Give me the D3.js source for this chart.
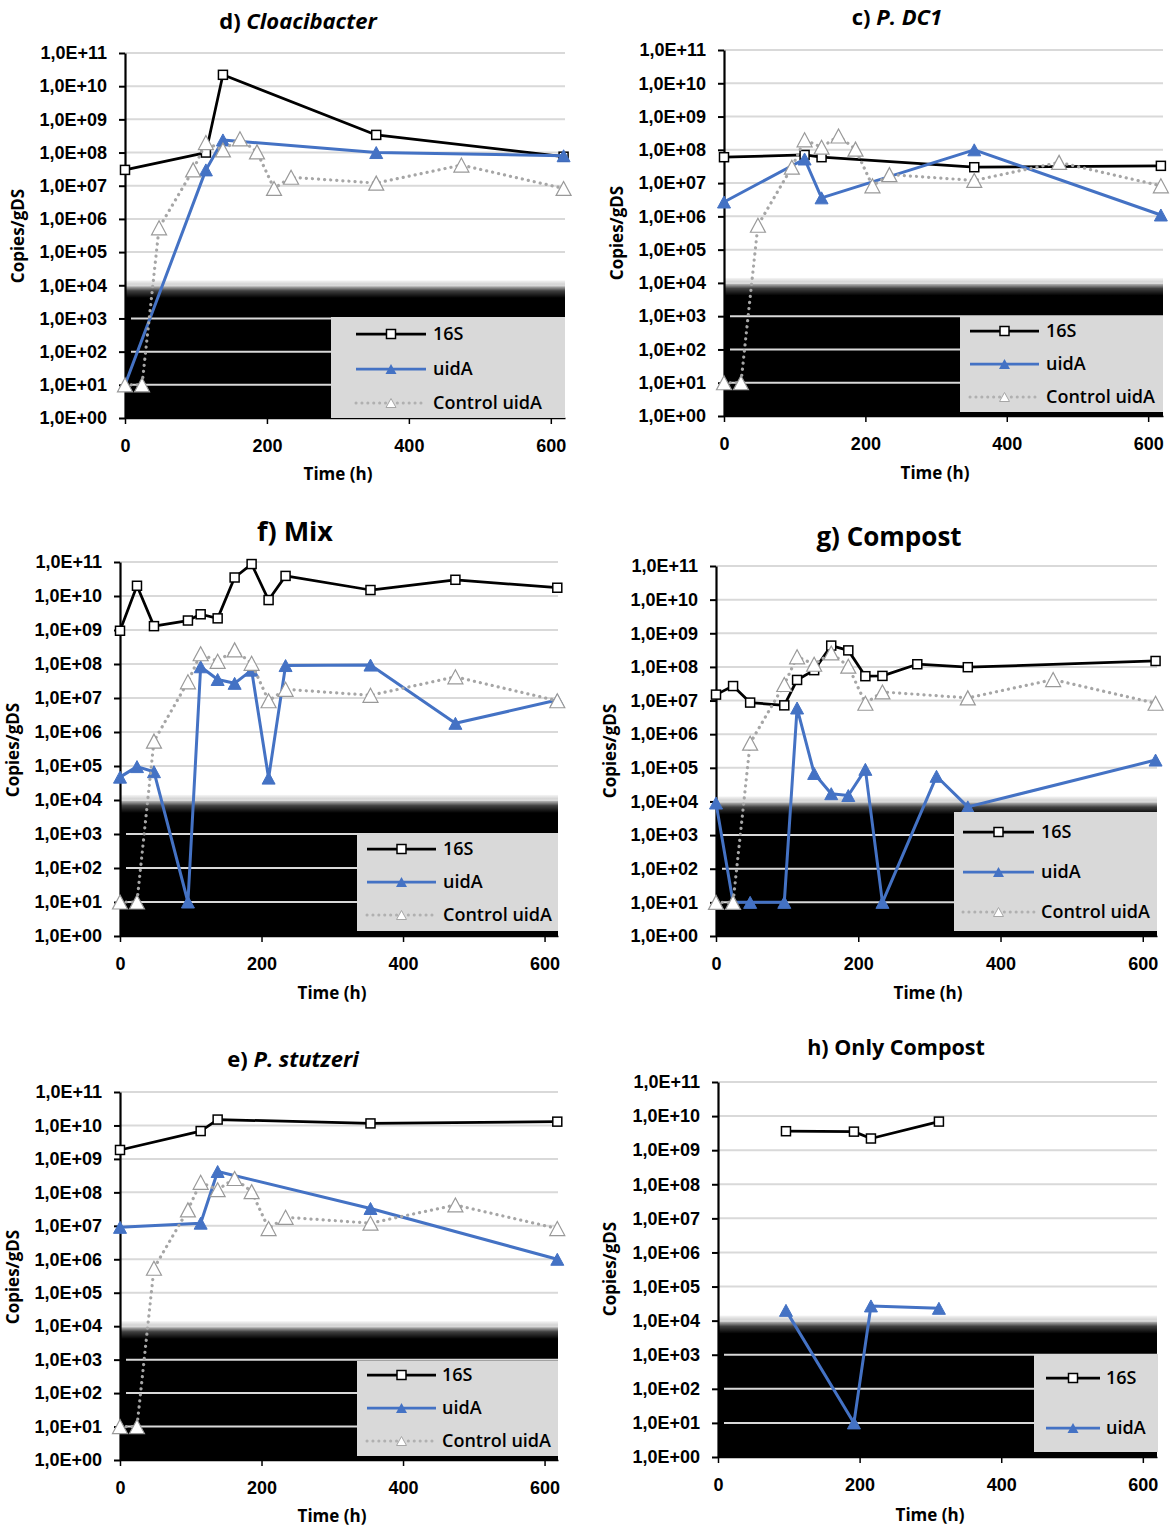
<!DOCTYPE html>
<html>
<head>
<meta charset="utf-8">
<script src="https://cdn.jsdelivr.net/npm/d3@7"></script>
<style>
  body { margin: 0; background: #fff; }
  svg { font-family: "Open Sans", "Liberation Sans", sans-serif; }
</style>
</head>
<body>
<div id="chart"></div>
<script>
// time points (h) and copies/gDS
const timeCtrl = [0, 24, 48, 96, 114, 138, 162, 186, 210, 234, 354, 474, 618];
const ctrlUidA = [10, 10, 5.4e5, 3e7, 2e8, 1.2e8, 2.6e8, 1.05e8, 8.3e6, 1.8e7, 1.2e7, 4.2e7, 8.3e6];

const timeD = [0, 114, 138, 354, 618];
const d16S = [3e7, 1e8, 2.2e10, 3.4e8, 7.5e7];
const dUidA = [10, 3e7, 2.4e8, 1e8, 8e7];

const timeC = [0, 114, 138, 354, 618];
const c16S = [6e7, 7e7, 6e7, 3e7, 3.3e7];
const cUidA = [2.7e6, 5.3e7, 3.6e6, 1e8, 1.1e6];

const timeF = [0, 24, 48, 96, 114, 138, 162, 186, 210, 234, 354, 474, 618];
const f16S = [9.5e8, 2e10, 1.3e9, 1.9e9, 2.9e9, 2.2e9, 3.5e10, 8.7e10, 7.6e9, 3.9e10, 1.5e10, 3e10, 1.75e10];
const fUidA = [4.7e4, 9.6e4, 6.8e4, 10, 8.3e7, 3.5e7, 2.7e7, 6.6e7, 4.4e4, 9e7, 9.3e7, 1.8e6, 8.7e6];

const timeG16S = [0, 24, 48, 96, 114, 138, 162, 186, 210, 234, 283, 354, 618];
const g16S = [1.5e7, 2.7e7, 8.7e6, 7.2e6, 4.1e7, 8e7, 4.3e8, 3.1e8, 5.3e7, 5.4e7, 1.2e8, 9.8e7, 1.5e8];
const timeGUidA = [0, 24, 48, 96, 114, 138, 162, 186, 210, 234, 310, 354, 618];
const gUidA = [9e3, 10, 10, 10, 6e6, 6.8e4, 1.7e4, 1.5e4, 9e4, 10, 5.6e4, 6.9e3, 1.7e5];

const timeE = [0, 114, 138, 354, 618];
const e16S = [1.85e9, 6.8e9, 1.5e10, 1.15e10, 1.3e10];
const eUidA = [9e6, 1.2e7, 4.2e8, 3.3e7, 1e6];

const timeH = [96, 192, 216, 312];
const h16S = [3.6e9, 3.5e9, 2.2e9, 6.9e9];
const hUidA = [2e4, 10, 2.7e4, 2.3e4];

const yTicks = [1, 1e1, 1e2, 1e3, 1e4, 1e5, 1e6, 1e7, 1e8, 1e9, 1e10, 1e11];
const xTicks = [0, 200, 400, 600];
const seriesNames = ["16S", "uidA", "Control uidA"];

const W = 1173, H = 1528;
const BLUE = "#4472c4", GRID = "#d9d9d9", CTRL = "#a6a6a6";

const svg = d3.select("#chart").append("svg")
    .attr("width", W)
    .attr("height", H);
const defs = svg.append("defs");

const panels = [
  { id: "d", x0: 125, x1: 565, yTop: 53, yBot: 418, xMax: 620,
    title: [["d) ", false], ["Cloacibacter", true]], tx: 298, ty: 21, tsize: 22,
    timeX: 338, timeY: 474, copX: 18, copY: 236,
    legend: { x0: 331, y0: 317, x1: 565, y1: 418, rows: [334, 369, 403], l0: 356, l1: 426, tx: 433 },
    s16: [timeD, d16S], uid: [timeD, dUidA], ctrl: [timeCtrl, ctrlUidA] },
  { id: "c", x0: 724, x1: 1163, yTop: 50, yBot: 416, xMax: 621,
    title: [["c) ", false], ["P. DC1", true]], tx: 897, ty: 17, tsize: 22,
    timeX: 935, timeY: 473, copX: 617, copY: 233,
    legend: { x0: 960, y0: 316, x1: 1163, y1: 412, rows: [331, 364, 397], l0: 970, l1: 1039, tx: 1046 },
    s16: [timeC, c16S], uid: [timeC, cUidA], ctrl: [timeCtrl, ctrlUidA] },
  { id: "f", x0: 120, x1: 558, yTop: 562, yBot: 936, xMax: 619,
    title: [["f) Mix", false]], tx: 295, ty: 532, tsize: 27,
    timeX: 332, timeY: 993, copX: 13, copY: 750,
    legend: { x0: 357, y0: 833, x1: 558, y1: 931, rows: [849, 882, 915], l0: 367, l1: 436, tx: 443 },
    s16: [timeF, f16S], uid: [timeF, fUidA], ctrl: [timeCtrl, ctrlUidA] },
  { id: "g", x0: 716, x1: 1157, yTop: 566, yBot: 936, xMax: 620,
    title: [["g) Compost", false]], tx: 889, ty: 537, tsize: 26,
    timeX: 928, timeY: 993, copX: 610, copY: 751,
    legend: { x0: 954, y0: 812, x1: 1157, y1: 931, rows: [832, 872, 912], l0: 963, l1: 1034, tx: 1041 },
    s16: [timeG16S, g16S], uid: [timeGUidA, gUidA], ctrl: [timeCtrl, ctrlUidA] },
  { id: "e", x0: 120, x1: 558, yTop: 1092, yBot: 1460, xMax: 619,
    title: [["e) ", false], ["P. stutzeri", true]], tx: 293, ty: 1059, tsize: 22,
    timeX: 332, timeY: 1516, copX: 13, copY: 1277,
    legend: { x0: 357, y0: 1361, x1: 558, y1: 1456, rows: [1375, 1408, 1441], l0: 367, l1: 436, tx: 442 },
    s16: [timeE, e16S], uid: [timeE, eUidA], ctrl: [timeCtrl, ctrlUidA] },
  { id: "h", x0: 718, x1: 1157, yTop: 1082, yBot: 1457, xMax: 620,
    title: [["h) Only Compost", false]], tx: 896, ty: 1047, tsize: 21.5,
    timeX: 930, timeY: 1515, copX: 610, copY: 1269,
    legend: { x0: 1034, y0: 1354, x1: 1158, y1: 1452, rows: [1378, 1428], l0: 1046, l1: 1100, tx: 1106 },
    s16: [timeH, h16S], uid: [timeH, hUidA], ctrl: null }
];

const tickFmt = d => "1,0E+" + String(Math.round(Math.log10(d))).padStart(2, "0");

function tri(w, h) {
  return `M0,${-h / 2}L${w / 2},${h / 2}L${-w / 2},${h / 2}Z`;
}

function drawPanel(p) {
  const x = d3.scaleLinear().domain([0, p.xMax]).range([p.x0, p.x1]);
  const y = d3.scaleLog().domain([1, 1e11]).range([p.yBot, p.yTop]);
  const g = svg.append("g");

  // dark "below detection" band with a soft top edge
  const grad = defs.append("linearGradient")
      .attr("id", "fade" + p.id)
      .attr("gradientUnits", "userSpaceOnUse")
      .attr("x1", 0).attr("x2", 0)
      .attr("y1", y(10 ** 4.15)).attr("y2", y(10 ** 3.62));
  grad.append("stop").attr("offset", 0).attr("stop-color", "#000").attr("stop-opacity", 0.04);
  grad.append("stop").attr("offset", 0.3).attr("stop-color", "#000").attr("stop-opacity", 0.22);
  grad.append("stop").attr("offset", 0.6).attr("stop-color", "#000").attr("stop-opacity", 0.75);
  grad.append("stop").attr("offset", 1).attr("stop-color", "#000").attr("stop-opacity", 1);

  g.append("rect")
      .attr("x", p.x0)
      .attr("y", y(10 ** 4.15))
      .attr("width", p.x1 - p.x0)
      .attr("height", p.yBot - y(10 ** 4.15))
      .attr("fill", `url(#fade${p.id})`);

  // gridlines
  g.append("g").selectAll("line")
    .data(yTicks.slice(1))
    .join("line")
      .attr("x1", d => d < 1e4 ? p.x0 + 6 : p.x0)
      .attr("x2", p.x1)
      .attr("y1", d => y(d))
      .attr("y2", d => y(d))
      .attr("stroke", GRID)
      .attr("stroke-width", 2);

  // axes
  const yAxis = d3.axisLeft(y).tickValues(yTicks).tickFormat(tickFmt)
      .tickSize(6).tickSizeOuter(0).tickPadding(12);
  const ya = g.append("g").attr("transform", `translate(${p.x0},0)`).call(yAxis);
  ya.select(".domain").attr("stroke", "#000").attr("stroke-width", 2.2);
  ya.selectAll(".tick line").attr("stroke", "#000").attr("stroke-width", 2);
  ya.selectAll("text").attr("font-size", 18).attr("font-weight", 700).attr("fill", "#000");

  const xAxis = d3.axisBottom(x).tickValues(xTicks).tickSize(6).tickSizeOuter(0).tickPadding(15);
  const xa = g.append("g").attr("transform", `translate(0,${p.yBot})`).call(xAxis);
  xa.select(".domain").attr("stroke", "#000").attr("stroke-width", 1.5);
  xa.selectAll(".tick line").attr("stroke", "#000").attr("stroke-width", 1.5);
  xa.selectAll("text").attr("font-size", 18).attr("font-weight", 700).attr("fill", "#000");

  // series
  const line = d3.line().x(d => x(d[0])).y(d => y(d[1]));
  const pts = s => s[0].map((t, i) => [t, s[1][i]]);

  const d16 = pts(p.s16);
  g.append("path").datum(d16).attr("d", line)
      .attr("fill", "none").attr("stroke", "#000").attr("stroke-width", 2.75)
      .attr("stroke-linejoin", "round");
  g.append("g").selectAll("rect").data(d16).join("rect")
      .attr("x", d => x(d[0]) - 4.5).attr("y", d => y(d[1]) - 4.5)
      .attr("width", 9).attr("height", 9)
      .attr("fill", "#fff").attr("stroke", "#000").attr("stroke-width", 1.5);

  const dU = pts(p.uid);
  g.append("path").datum(dU).attr("d", line)
      .attr("fill", "none").attr("stroke", BLUE).attr("stroke-width", 3)
      .attr("stroke-linejoin", "round");
  g.append("g").selectAll("path").data(dU).join("path")
      .attr("d", tri(13, 12))
      .attr("transform", d => `translate(${x(d[0])},${y(d[1])})`)
      .attr("fill", BLUE).attr("stroke", BLUE).attr("stroke-width", 1);

  if (p.ctrl) {
    const dC = pts(p.ctrl);
    g.append("path").datum(dC).attr("d", line)
        .attr("fill", "none").attr("stroke", CTRL).attr("stroke-width", 3.2)
        .attr("stroke-dasharray", "0.1 6").attr("stroke-linecap", "round");
    g.append("g").selectAll("path").data(dC).join("path")
        .attr("d", tri(15, 14))
        .attr("transform", d => `translate(${x(d[0])},${y(d[1])})`)
        .attr("fill", "#fff").attr("stroke", "#999").attr("stroke-width", 1.2);
  }

  // legend
  const L = p.legend;
  g.append("rect")
      .attr("x", L.x0).attr("y", L.y0)
      .attr("width", L.x1 - L.x0).attr("height", L.y1 - L.y0)
      .attr("fill", "#d9d9d9");
  const nItems = p.ctrl ? 3 : 2;
  const lg = g.append("g").selectAll("g")
    .data(seriesNames.slice(0, nItems))
    .join("g")
      .attr("transform", (d, i) => `translate(0,${L.rows[i]})`);
  lg.append("line")
      .attr("x1", L.l0).attr("x2", L.l1)
      .attr("stroke", (d, i) => [ "#000", BLUE, "#b0b0b0" ][i])
      .attr("stroke-width", (d, i) => i === 2 ? 3 : 2.75)
      .attr("stroke-dasharray", (d, i) => i === 2 ? "0.1 5.8" : null)
      .attr("stroke-linecap", (d, i) => i === 2 ? "round" : "butt");
  const mid = (L.l0 + L.l1) / 2;
  lg.filter((d, i) => i === 0).append("rect")
      .attr("x", mid - 4.5).attr("y", -4.5).attr("width", 9).attr("height", 9)
      .attr("fill", "#fff").attr("stroke", "#000").attr("stroke-width", 1.5);
  lg.filter((d, i) => i === 1).append("path")
      .attr("d", tri(11, 10)).attr("transform", `translate(${mid},0)`)
      .attr("fill", BLUE);
  lg.filter((d, i) => i === 2).append("path")
      .attr("d", tri(10, 9)).attr("transform", `translate(${mid},0)`)
      .attr("fill", "#fff").attr("stroke", CTRL).attr("stroke-width", 1);
  lg.append("text")
      .attr("x", L.tx).attr("dy", "0.35em")
      .attr("font-size", 18).attr("font-weight", 600).attr("fill", "#000")
      .text(d => d);

  // titles
  const t = svg.append("text")
      .attr("x", p.tx).attr("y", p.ty).attr("dy", "0.35em")
      .attr("text-anchor", "middle")
      .attr("font-size", p.tsize).attr("font-weight", 700).attr("fill", "#000");
  p.title.forEach(([s, it]) => t.append("tspan").attr("font-style", it ? "italic" : "normal").text(s));

  svg.append("text")
      .attr("x", p.timeX).attr("y", p.timeY).attr("dy", "0.35em")
      .attr("text-anchor", "middle")
      .attr("font-size", 17).attr("font-weight", 700)
      .text("Time (h)");

  svg.append("text")
      .attr("transform", `translate(${p.copX},${p.copY}) rotate(-90)`)
      .attr("dy", "0.35em")
      .attr("text-anchor", "middle")
      .attr("font-size", 17).attr("font-weight", 700)
      .text("Copies/gDS");
}

panels.forEach(drawPanel);
</script>
</body>
</html>
